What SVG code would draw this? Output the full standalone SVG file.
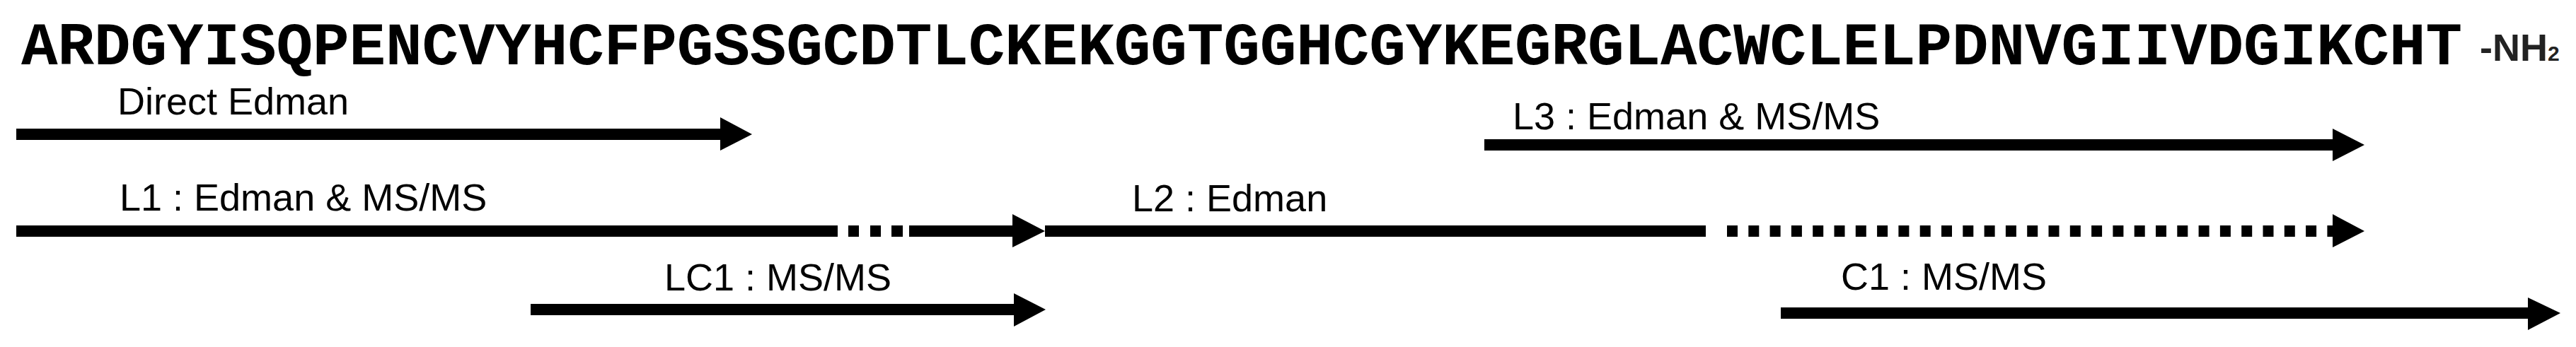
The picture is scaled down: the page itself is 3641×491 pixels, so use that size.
<svg xmlns="http://www.w3.org/2000/svg" width="3641" height="491" viewBox="0 0 3641 491">
<style>
.seq{font-family:"Liberation Mono","Courier New",monospace;font-weight:bold;font-size:86px;fill:#000}
.lbl{font-family:"Liberation Sans",Arial,sans-serif;font-size:54px;fill:#000}
.nh{font-family:"Liberation Sans",Arial,sans-serif;font-weight:bold;font-size:54px;fill:#222}
.bar{fill:#000}
.dash{stroke:#000;stroke-width:16;stroke-dasharray:15 15.3;fill:none}
</style>
<rect width="3641" height="491" fill="#fff"/>
<g id="sequence">
<text class="seq" x="30" y="91" textLength="3450" lengthAdjust="spacing">ARDGYISQPENCVYHCFPGSSGCDTLCKEKGGTGGHCGYKEGRGLACWCLELPDNVGIIVDGIKCHT</text>
<text class="nh" x="3505" y="86">-NH<tspan font-size="30">2</tspan></text>
</g>
<g id="label-direct"><text class="lbl" x="166" y="162">Direct Edman</text></g>
<g id="label-l3"><text class="lbl" x="2138" y="183">L3 : Edman &amp; MS/MS</text></g>
<g id="label-l1"><text class="lbl" x="169" y="298">L1 : Edman &amp; MS/MS</text></g>
<g id="label-l2"><text class="lbl" x="1600" y="299">L2 : Edman</text></g>
<g id="label-lc1"><text class="lbl" x="939" y="411">LC1 : MS/MS</text></g>
<g id="label-c1"><text class="lbl" x="2602" y="410">C1 : MS/MS</text></g>
<g id="connectors">
<g id="arrow-direct">
<rect class="bar" x="23" y="182" width="996" height="16"/>
<polygon class="bar" points="1018,166 1063,190 1018,213"/>
</g>
<g id="arrow-l3">
<rect class="bar" x="2098" y="197" width="1200" height="16"/>
<polygon class="bar" points="3297,182 3342,205 3297,228"/>
</g>
<g id="arrow-l1">
<rect class="bar" x="23" y="319" width="1161" height="16"/>
<rect class="bar" x="1199" y="319" width="15" height="16"/>
<rect class="bar" x="1230" y="319" width="15" height="16"/>
<rect class="bar" x="1260" y="319" width="16" height="16"/>
<rect class="bar" x="1285" y="319" width="147" height="16"/>
<polygon class="bar" points="1431,303 1477,327 1431,350"/>
</g>
<g id="arrow-l2">
<rect class="bar" x="1477" y="319" width="934" height="16"/>
<line class="dash" x1="2441" y1="327" x2="3298" y2="327"/>
<polygon class="bar" points="3297,303 3342,327 3297,350"/>
</g>
<g id="arrow-lc1">
<rect class="bar" x="750" y="430" width="684" height="16"/>
<polygon class="bar" points="1433,415 1478,438 1433,462"/>
</g>
<g id="arrow-c1">
<rect class="bar" x="2517" y="435" width="1057" height="16"/>
<polygon class="bar" points="3573,421 3619,443 3573,467"/>
</g>
</g>
</svg>
